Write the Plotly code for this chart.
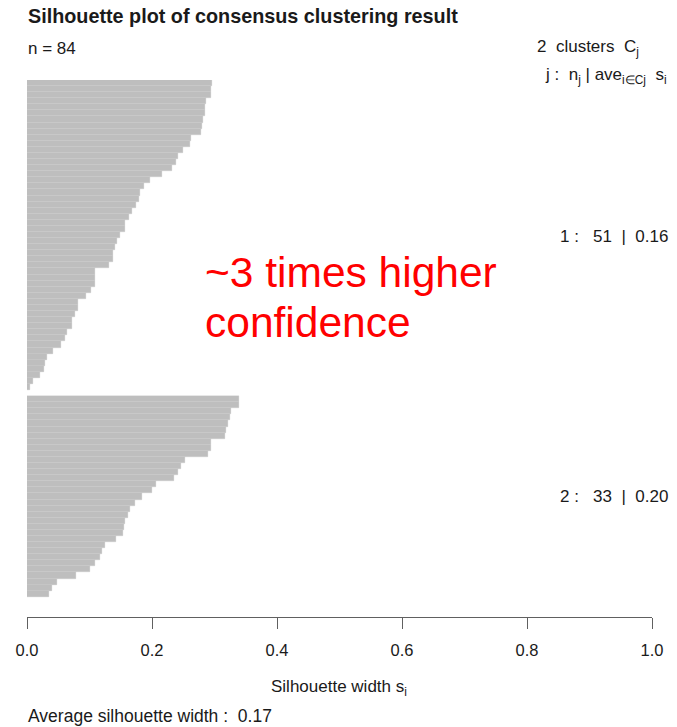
import plotly.graph_objects as go

# Silhouette widths, sorted decreasing within each cluster
cluster1 = [0.296, 0.295, 0.294, 0.286, 0.285, 0.284, 0.282, 0.280, 0.278, 0.262,
            0.261, 0.249, 0.241, 0.239, 0.232, 0.216, 0.197, 0.187, 0.180, 0.179,
            0.175, 0.168, 0.163, 0.157, 0.157, 0.149, 0.144, 0.141, 0.138, 0.137,
            0.131, 0.108, 0.108, 0.108, 0.102, 0.095, 0.082, 0.082, 0.076, 0.072,
            0.072, 0.064, 0.061, 0.055, 0.042, 0.032, 0.029, 0.027, 0.021, 0.010,
            0.004]
cluster2 = [0.339, 0.339, 0.327, 0.325, 0.322, 0.319, 0.317, 0.295, 0.295, 0.290,
            0.252, 0.247, 0.242, 0.235, 0.207, 0.200, 0.184, 0.173, 0.164, 0.161,
            0.156, 0.155, 0.154, 0.143, 0.125, 0.120, 0.116, 0.108, 0.101, 0.079,
            0.048, 0.040, 0.035]
tick_vals = [0.0, 0.2, 0.4, 0.6, 0.8, 1.0]
tick_text = ["0.0", "0.2", "0.4", "0.6", "0.8", "1.0"]

# bar slots: cluster 1, one empty slot, cluster 2 (top to bottom)
y1 = [i + 0.5 for i in range(len(cluster1))]
y2 = [len(cluster1) + 1 + j + 0.5 for j in range(len(cluster2))]

n_all = len(cluster1) + len(cluster2)
ave1 = sum(cluster1) / len(cluster1)
ave2 = sum(cluster2) / len(cluster2)
ave_all = (sum(cluster1) + sum(cluster2)) / n_all

FONT = "Liberation Sans, Arial, sans-serif"
W, H = 677, 727
ML, MR, MT, MB = 27, 25, 80, 110
PW, PH = W - ML - MR, H - MT - MB


def px(x):
    return (x - ML) / PW


def py(y):
    return (H - MB - y) / PH


bar_style = dict(color="#BEBEBE", line=dict(color="#C8C8C8", width=0.3))
fig = go.Figure()
fig.add_trace(go.Bar(x=cluster1, y=y1, orientation="h", marker=bar_style,
                     width=1, showlegend=False, hoverinfo="x"))
fig.add_trace(go.Bar(x=cluster2, y=y2, orientation="h", marker=bar_style,
                     width=1, showlegend=False, hoverinfo="x"))

slot_px = 6.08
fig.update_layout(
    width=W, height=H,
    margin=dict(l=ML, r=MR, t=MT, b=MB, pad=0),
    plot_bgcolor="white", paper_bgcolor="white",
    bargap=0,
    font=dict(family=FONT, size=17, color="#1a1a1a"),
    xaxis=dict(range=[0, 1], tickvals=tick_vals, ticktext=tick_text,
               showgrid=False, zeroline=False, showline=True,
               linecolor="#606060", linewidth=1, ticks="outside",
               ticklen=11, tickcolor="#606060", tickwidth=1,
               ticklabelstandoff=7,
               tickfont=dict(size=16.5, family=FONT, color="#1a1a1a")),
    yaxis=dict(range=[PH / slot_px, 0], showgrid=False, zeroline=False,
               showline=False, showticklabels=False, ticks=""),
)

ann = []


def add(text, x, y, size=17, anchor="left", color="#1a1a1a", bold=False):
    ann.append(dict(text=("<b>%s</b>" % text) if bold else text,
                    x=px(x), y=py(y), xref="paper", yref="paper",
                    xanchor=anchor, yanchor="middle", showarrow=False,
                    font=dict(family=FONT, size=size, color=color)))


add("Silhouette plot of consensus clustering result", 26, 16, size=19.8, bold=True)
add("n = %d" % n_all, 26, 48, size=17)
add("2  clusters  C<sub>j</sub>", 535, 48, size=17)
add("j :  n<sub>j</sub> | ave<sub>i\u2208Cj</sub>  s<sub>i</sub>", 543, 76, size=17)
add("1 :   %d  |  %.2f" % (len(cluster1), ave1), 558, 236, size=17)
add("2 :   %d  |  %.2f" % (len(cluster2), ave2), 558, 496, size=17)
add("~3 times higher", 203, 272, size=42.5, color="#FF0000")
add("confidence", 203, 322, size=42.5, color="#FF0000")
add("Silhouette width s<sub>i</sub>", 339, 688, size=17, anchor="center")
add("Average silhouette width :  %.2f" % ave_all, 26, 716, size=17.5)

fig.update_layout(annotations=ann)
fig.write_html("out.html")
